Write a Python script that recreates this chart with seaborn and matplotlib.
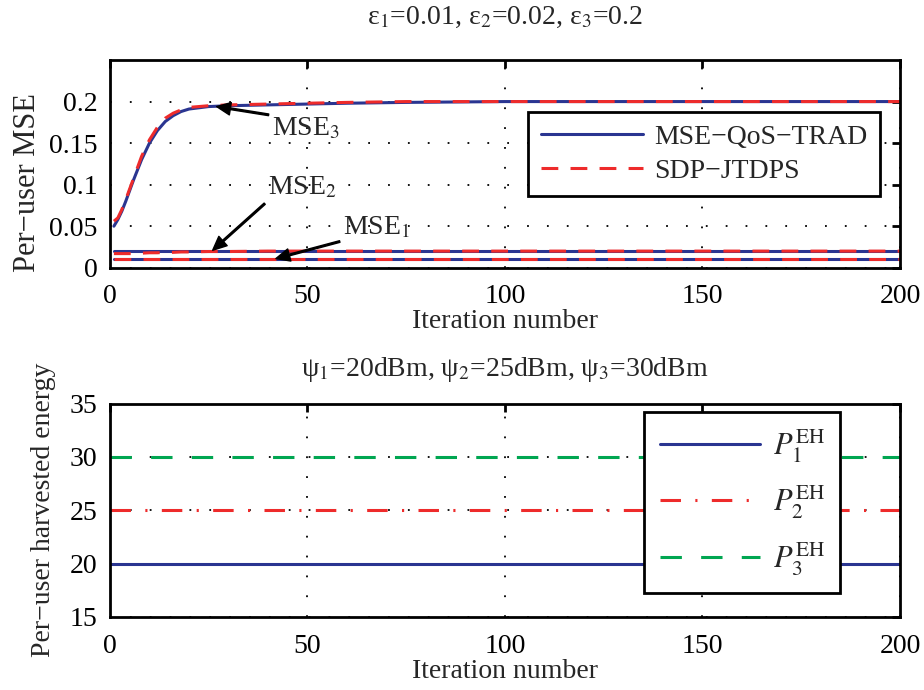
import numpy as np
import pandas as pd
import matplotlib
matplotlib.use("Agg")
import matplotlib.pyplot as plt
import seaborn as sns

# iteration points for the MSE curves
it = [1, 2, 3, 4, 6, 8, 10, 12, 14, 16, 18, 20, 25, 30, 40, 50, 60, 75, 100, 150, 200]
mse3_trad = [0.050, 0.058, 0.068, 0.080, 0.106, 0.130, 0.150, 0.165, 0.176, 0.183, 0.188, 0.191,
             0.194, 0.195, 0.196, 0.197, 0.198, 0.199, 0.200, 0.200, 0.200]
mse3_sdp = [0.056, 0.060, 0.070, 0.082, 0.108, 0.134, 0.154, 0.169, 0.180, 0.186, 0.190, 0.193,
            0.195, 0.196, 0.197, 0.198, 0.199, 0.200, 0.200, 0.200, 0.200]
mse2_trad = [0.020] * len(it)
mse2_sdp = [0.017, 0.017, 0.017, 0.017, 0.017, 0.0175, 0.018, 0.018, 0.0185, 0.0185, 0.019, 0.019,
            0.0195, 0.0195, 0.020, 0.020, 0.020, 0.020, 0.020, 0.020, 0.020]
mse1_trad = [0.010] * len(it)
mse1_sdp = [0.010] * len(it)

# harvested energy (dBm)
it_eh = [0, 200]
p1 = [20, 20]
p2 = [25, 25]
p3 = [30, 30]

blue = "#2a3591"
red = "#ee2b2b"
green = "#00a651"

sns.set_theme(style="white")
plt.rcParams['font.family'] = ['Liberation Serif', 'DejaVu Serif']
plt.rcParams['mathtext.fontset'] = 'stix'
plt.rcParams['xtick.direction'] = 'in'
plt.rcParams['ytick.direction'] = 'in'

fig = plt.figure(figsize=(9.24, 6.9), dpi=100)
ax1 = fig.add_axes([0.119, 0.612, 0.855, 0.301])
ax2 = fig.add_axes([0.119, 0.106, 0.855, 0.309])

fs = 20
lw = 2.2

# top panel
for i, (tr, sd) in enumerate([(mse3_trad, mse3_sdp), (mse2_trad, mse2_sdp), (mse1_trad, mse1_sdp)]):
    sns.lineplot(x=it, y=tr, ax=ax1, color=blue, lw=lw, label="MSE\u2212QoS\u2212TRAD" if i == 0 else None)
    sns.lineplot(x=it, y=sd, ax=ax1, color=red, lw=lw, label="SDP\u2212JTDPS" if i == 0 else None)
    ax1.lines[-1].set_dashes((5.5, 4))

ax1.set_xlim(0, 200)
ax1.set_ylim(0, 0.25)
ax1.set_xticks([0, 50, 100, 150, 200])
ax1.set_yticks([0, 0.05, 0.1, 0.15, 0.2])
ax1.set_yticklabels(["0", "0.05", "0.1", "0.15", "0.2"])
ax1.set_xlabel("Iteration number", fontsize=fs, labelpad=0)
ax1.set_ylabel("Per\u2212user MSE", fontsize=fs + 2)
ax1.yaxis.set_label_coords(-0.086, 0.41)
ax1.set_title(r"ε$_1$=0.01, ε$_2$=0.02, ε$_3$=0.2", fontsize=fs, pad=26)
leg1 = ax1.legend(loc="upper right", bbox_to_anchor=(0.975, 0.75), borderaxespad=0, fontsize=fs,
                  frameon=True, fancybox=False, edgecolor="black", framealpha=1, handlelength=3.7,
                  handletextpad=0.4, borderpad=0.45, labelspacing=0.3)
leg1.get_frame().set_linewidth(2)

arrow = dict(facecolor="black", edgecolor="black", width=1.2, headwidth=9, headlength=10, shrink=0)
ax1.annotate("MSE$_3$", xy=(27, 0.194), xytext=(41, 0.168), fontsize=fs, arrowprops=arrow, va="center")
ax1.annotate("MSE$_2$", xy=(26, 0.021), xytext=(40, 0.096), fontsize=fs, arrowprops=arrow, va="center")
ax1.annotate("MSE$_1$", xy=(42, 0.011), xytext=(59, 0.048), fontsize=fs, arrowprops=arrow, va="center")

# bottom panel
sns.lineplot(x=it_eh, y=p1, ax=ax2, color=blue, lw=lw, label=r"$P_1^{\mathrm{EH}}$")
sns.lineplot(x=it_eh, y=p2, ax=ax2, color=red, lw=lw, label=r"$P_2^{\mathrm{EH}}$")
ax2.lines[-1].set_dashes((6.7, 4.7, 0.7, 4.7))
sns.lineplot(x=it_eh, y=p3, ax=ax2, color=green, lw=lw, label=r"$P_3^{\mathrm{EH}}$")
ax2.lines[-1].set_dashes((7, 6.3))

ax2.set_xlim(0, 200)
ax2.set_ylim(15, 35)
ax2.set_xticks([0, 50, 100, 150, 200])
ax2.set_yticks([15, 20, 25, 30, 35])
ax2.set_xlabel("Iteration number", fontsize=fs, labelpad=0)
ax2.set_ylabel("Per\u2212user harvested energy", fontsize=fs, labelpad=10)
ax2.set_title(r"ψ$_1$=20dBm, ψ$_2$=25dBm, ψ$_3$=30dBm", fontsize=fs, pad=20)
leg2 = ax2.legend(loc="upper right", bbox_to_anchor=(0.924, 0.962), borderaxespad=0, fontsize=fs + 2,
                  frameon=True, fancybox=False, edgecolor="black", framealpha=1, handlelength=3.3,
                  handletextpad=0.4, labelspacing=0.62, borderpad=0.5)
leg2.get_frame().set_linewidth(2)

for ax in (ax1, ax2):
    ax.grid(True, color="black", linestyle=(0, (1, 10)), linewidth=1.3)
    ax.set_axisbelow(True)
    for s in ax.spines.values():
        s.set_linewidth(2)
        s.set_color("black")
    ax.tick_params(labelsize=fs, length=6, width=2, top=True, right=True, colors="black")
    ax.tick_params(axis="x", pad=12)
    ax.tick_params(axis="y", pad=9)
    ax.set_facecolor("white")

fig.savefig("out.png", dpi=100, facecolor="white")
